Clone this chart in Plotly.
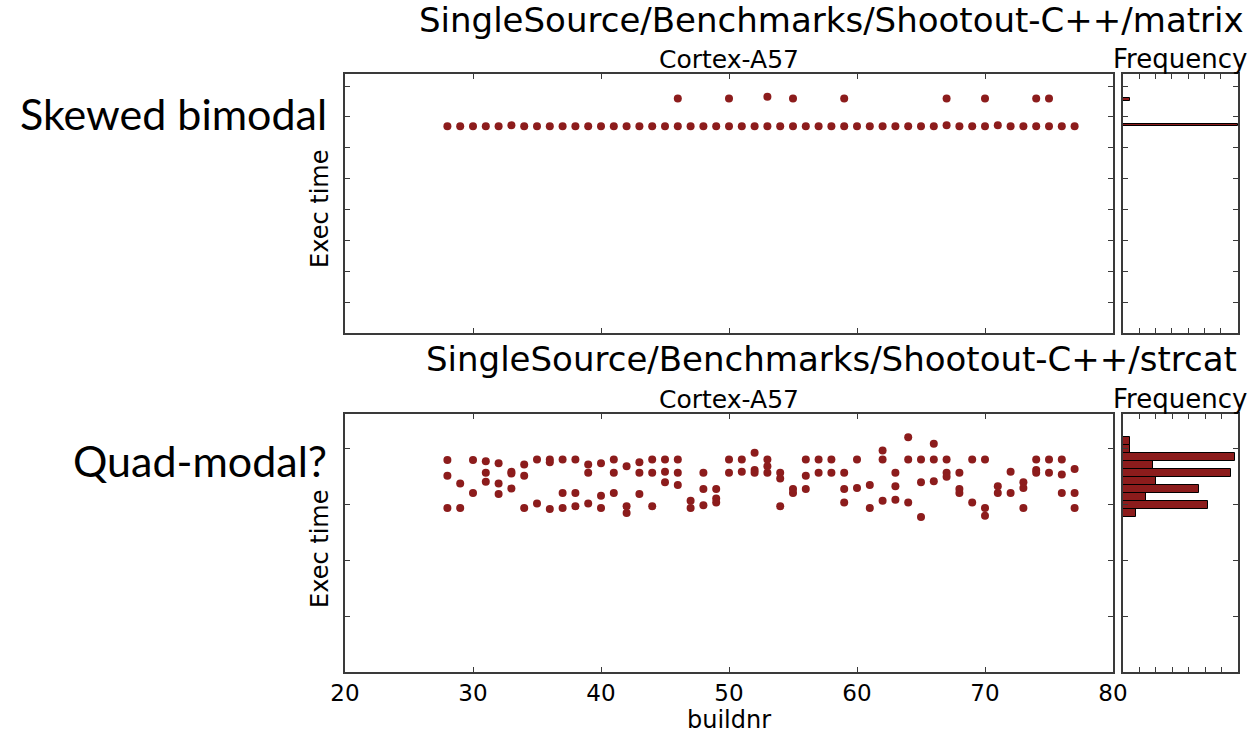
import plotly.graph_objects as go

W, H = 1258, 734

# ---------------- data: matrix (top) ----------------
matrix_build = [28, 29, 30, 31, 32, 33, 34, 35, 36, 37, 38, 39, 40, 41, 42, 43, 44,
                45, 46, 47, 48, 49, 50, 51, 52, 53, 54, 55, 56, 57, 58, 59, 60, 61,
                62, 63, 64, 65, 66, 67, 68, 69, 70, 71, 72, 73, 74, 75, 76, 77]
matrix_time = [6.70, 6.70, 6.70, 6.70, 6.70, 6.73, 6.70, 6.70, 6.70, 6.70, 6.70, 6.70,
               6.70, 6.70, 6.70, 6.70, 6.70, 6.70, 6.70, 6.70, 6.70, 6.70, 6.70, 6.70,
               6.70, 6.70, 6.70, 6.70, 6.70, 6.70, 6.70, 6.70, 6.70, 6.70, 6.70, 6.70,
               6.70, 6.70, 6.70, 6.73, 6.70, 6.70, 6.70, 6.73, 6.70, 6.70, 6.70, 6.70,
               6.70, 6.70]
matrix_upper_build = [46, 50, 53, 55, 59, 67, 70, 74, 75]
matrix_upper_time = [7.60, 7.60, 7.65, 7.60, 7.60, 7.60, 7.60, 7.60, 7.60]
matrix_hist_counts = [141, 0, 0, 0, 0, 0, 0, 0, 0, 9]      # bottom bin -> top bin
matrix_hist_range = [6.69, 7.62]

# ---------------- data: strcat (bottom) ----------------
strcat_build = [28, 28, 28, 29, 29, 30, 30, 31, 31, 31, 32, 32, 32, 33, 33, 33,
                34, 34, 34, 35, 35, 36, 36, 36, 37, 37, 37, 38, 38, 38, 39, 39, 39,
                40, 40, 40, 41, 41, 41, 42, 42, 42, 43, 43, 43, 44, 44, 44, 45, 45, 45,
                46, 46, 46, 47, 47, 48, 48, 48, 49, 49, 49, 50, 50, 51, 51,
                52, 52, 52, 53, 53, 53, 54, 54, 54, 55, 55, 56, 56, 56, 57, 57, 58, 58,
                59, 59, 59, 60, 60, 61, 61, 62, 62, 62, 63, 63, 63, 64, 64, 64,
                65, 65, 65, 66, 66, 66, 67, 67, 67, 68, 68, 68, 69, 69, 70, 70, 70,
                71, 71, 72, 72, 73, 73, 73, 74, 74, 74, 75, 75, 76, 76, 76, 77, 77, 77]
strcat_time = [3.80, 3.52, 2.94, 3.38, 2.94, 3.80, 3.21, 3.78, 3.57, 3.41, 3.74, 3.38, 3.19,
               3.59, 3.56, 3.29, 3.72, 3.52, 2.94, 3.81, 3.02, 3.81, 3.76, 2.92,
               3.81, 3.21, 2.94, 3.81, 3.21, 2.97, 3.72, 3.57, 3.02,
               3.74, 3.16, 2.94, 3.81, 3.57, 3.21, 3.69, 2.97, 2.85, 3.76, 3.57, 3.19,
               3.81, 3.57, 2.97, 3.81, 3.59, 3.40, 3.81, 3.57, 3.35, 3.07, 2.94,
               3.57, 3.28, 2.99, 3.28, 3.11, 3.04, 3.81, 3.57, 3.81, 3.59,
               3.93, 3.62, 3.57, 3.81, 3.69, 3.57, 3.57, 3.47, 2.97, 3.28, 3.21,
               3.81, 3.52, 3.28, 3.81, 3.57, 3.81, 3.57, 3.57, 3.28, 3.04, 3.81, 3.30,
               3.35, 2.94, 3.97, 3.81, 3.07, 3.57, 3.33, 3.09, 4.21, 3.81, 3.04,
               3.81, 3.40, 2.78, 4.09, 3.81, 3.42, 3.81, 3.57, 3.50, 3.57, 3.28, 3.21,
               3.81, 3.04, 3.81, 2.94, 2.80, 3.33, 3.21, 3.59, 3.21, 3.40, 3.30, 2.94,
               3.81, 3.62, 3.57, 3.81, 3.57, 3.81, 3.54, 3.21, 3.64, 3.21, 2.94]
strcat_hist_counts = [4, 26, 7, 23, 10, 33, 9, 34, 2, 2]     # bottom bin -> top bin
strcat_hist_range = [2.778, 4.211]

titles = ["SingleSource/Benchmarks/Shootout-C++/matrix",
          "SingleSource/Benchmarks/Shootout-C++/strcat"]
side_labels = ["Skewed bimodal", "Quad-modal?"]
x_ticks = [20, 30, 40, 50, 60, 70, 80]

# ---------------- styling ----------------
RED = "#8c1c1c"
AX = "#3a3a3a"
TXT = "black"
FONT = "DejaVu Sans"


def px2x(p):
    return p / W


def px2y(p):
    return 1 - p / H


sc_dom = [px2x(345), px2x(1113)]
hi_dom = [px2x(1123), px2x(1238)]
top_dom = [px2y(333), px2y(74)]
bot_dom = [px2y(672), px2y(414)]

fig = go.Figure()


def hist_bars(counts, rng, xa, ya):
    n = len(counts)
    w = (rng[1] - rng[0]) / n
    centers = [rng[0] + w * (i + 0.5) for i in range(n)]
    return go.Bar(x=counts, y=centers, orientation="h", width=w,
                  marker=dict(color=RED, line=dict(color="black", width=1)),
                  xaxis=xa, yaxis=ya, showlegend=False, hoverinfo="skip")


mk = dict(color=RED, size=8, line=dict(width=0))
fig.add_trace(go.Scatter(x=matrix_build, y=matrix_time, mode="markers", marker=mk,
                         xaxis="x", yaxis="y", showlegend=False))
fig.add_trace(go.Scatter(x=matrix_upper_build, y=matrix_upper_time, mode="markers", marker=mk,
                         xaxis="x", yaxis="y", showlegend=False))
fig.add_trace(hist_bars(matrix_hist_counts, matrix_hist_range, "x2", "y2"))
fig.add_trace(go.Scatter(x=strcat_build, y=strcat_time, mode="markers", marker=mk,
                         xaxis="x3", yaxis="y3", showlegend=False))
fig.add_trace(hist_bars(strcat_hist_counts, strcat_hist_range, "x4", "y4"))

common = dict(showline=True, linecolor=AX, linewidth=1.5, mirror="ticks",
              ticks="inside", ticklen=5, tickwidth=1, tickcolor=AX,
              showgrid=False, zeroline=False, automargin=False)

fig.update_layout(
    template="none",
    width=W, height=H, autosize=False,
    margin=dict(l=0, r=0, t=0, b=0, pad=0, autoexpand=False),
    paper_bgcolor="white", plot_bgcolor="white",
    bargap=0, showlegend=False,
    xaxis=dict(domain=sc_dom, anchor="y", range=[20, 80], tickvals=x_ticks,
               showticklabels=False, **common),
    yaxis=dict(domain=top_dom, anchor="x", range=[0, 8.39], tick0=0, dtick=1,
               showticklabels=False, **common),
    xaxis2=dict(domain=hi_dom, anchor="y2", range=[0, 141], tick0=0, dtick=20,
                showticklabels=False, **common),
    yaxis2=dict(domain=top_dom, anchor="x2", range=[0, 8.39], tick0=0, dtick=1,
                showticklabels=False, **common),
    xaxis3=dict(domain=sc_dom, anchor="y3", range=[20, 80], tickvals=x_ticks,
                showticklabels=True, tickfont=dict(family=FONT, size=23, color=TXT),
                **common),
    yaxis3=dict(domain=bot_dom, anchor="x3", range=[0, 4.625], tick0=0, dtick=1,
                showticklabels=False, **common),
    xaxis4=dict(domain=hi_dom, anchor="y4", range=[0, 35], tick0=0, dtick=5,
                showticklabels=False, **common),
    yaxis4=dict(domain=bot_dom, anchor="x4", range=[0, 4.625], tick0=0, dtick=1,
                showticklabels=False, **common),
)


def ann(text, x, y, size, family=FONT, xanchor="center", angle=0):
    fig.add_annotation(text=text, x=px2x(x), y=px2y(y), xref="paper", yref="paper",
                       showarrow=False, xanchor=xanchor, yanchor="middle",
                       textangle=angle, borderpad=0,
                       font=dict(family=family, size=size, color=TXT))


for i, (ty, off) in enumerate([(20, 0), (359, 340)]):
    ann(titles[i], 831, ty, 34)
    ann("Cortex-A57", 729, 59 + off, 25)
    ann("Frequency", 1180, 59 + off, 26)
    ann("Exec time", 320, 209 + off, 24, angle=-90)

ann("buildnr", 729, 720, 24)
ann(side_labels[0], 328, 113, 43, family="Lato", xanchor="right")
ann(side_labels[1], 328, 460, 43, family="Lato", xanchor="right")

fig.write_html("out.html", config={"displayModeBar": False},
               post_script="document.body.style.margin='0';"
               "document.body.style.overflow='hidden';")
